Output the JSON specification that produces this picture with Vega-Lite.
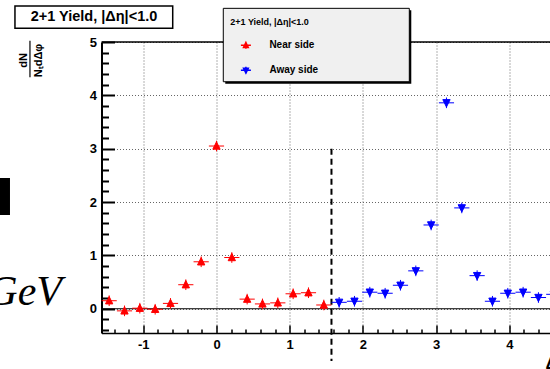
{
  "$schema": "https://vega.github.io/schema/vega-lite/v6.json",
  "width": 448.5,
  "height": 291,
  "autosize": {"type": "none"},
  "padding": {"left": 101.5, "top": 42, "right": 0, "bottom": 36},
  "background": "white",
  "config": {
    "view": {"stroke": null},
    "font": "Liberation Sans"
  },
  "layer": [
    {
      "data": {"values": [{}]},
      "mark": {"type": "rule", "color": "black", "strokeWidth": 1.2},
      "encoding": {"y": {"datum": 0}}
    },
    {
      "data": {"values": [{}]},
      "mark": {"type": "rule", "color": "black", "strokeWidth": 1.5},
      "encoding": {"y": {"datum": 5}}
    },
    {
      "data": {"values": [{}]},
      "mark": {"type": "rule", "color": "black", "strokeWidth": 2, "strokeDash": [6, 4]},
      "encoding": {"x": {"datum": 1.5708}, "y": {"datum": 3}, "y2": {"datum": -0.98}}
    },
    {
      "data": {"values": [{}]},
      "mark": {"type": "rect", "fill": "black"},
      "encoding": {"x": {"datum": 0.12}, "x2": {"datum": 2.661}, "y": {"datum": 5.594}, "y2": {"datum": 4.218}}
    },
    {
      "data": {"values": [{}]},
      "mark": {"type": "rect", "fill": "#f0f0f0", "stroke": "black", "strokeWidth": 1},
      "encoding": {"x": {"datum": 0.093}, "x2": {"datum": 2.634}, "y": {"datum": 5.631}, "y2": {"datum": 4.255}}
    },
    {
      "data": {"values": [
        {"dphi": -1.4661, "yield": 0.15, "side": "Near side"},
        {"dphi": -1.2566, "yield": -0.04, "side": "Near side"},
        {"dphi": -1.0472, "yield": 0.01, "side": "Near side"},
        {"dphi": -0.8378, "yield": -0.01, "side": "Near side"},
        {"dphi": -0.6283, "yield": 0.10, "side": "Near side"},
        {"dphi": -0.4189, "yield": 0.45, "side": "Near side"},
        {"dphi": -0.2094, "yield": 0.88, "side": "Near side"},
        {"dphi": 0.0, "yield": 3.05, "side": "Near side"},
        {"dphi": 0.2094, "yield": 0.96, "side": "Near side"},
        {"dphi": 0.4189, "yield": 0.18, "side": "Near side"},
        {"dphi": 0.6283, "yield": 0.09, "side": "Near side"},
        {"dphi": 0.8378, "yield": 0.11, "side": "Near side"},
        {"dphi": 1.0472, "yield": 0.28, "side": "Near side"},
        {"dphi": 1.2566, "yield": 0.30, "side": "Near side"},
        {"dphi": 1.4661, "yield": 0.07, "side": "Near side"},
        {"dphi": 1.6755, "yield": 0.12, "side": "Away side"},
        {"dphi": 1.885, "yield": 0.14, "side": "Away side"},
        {"dphi": 2.0944, "yield": 0.31, "side": "Away side"},
        {"dphi": 2.3038, "yield": 0.29, "side": "Away side"},
        {"dphi": 2.5133, "yield": 0.44, "side": "Away side"},
        {"dphi": 2.7227, "yield": 0.71, "side": "Away side"},
        {"dphi": 2.9322, "yield": 1.57, "side": "Away side"},
        {"dphi": 3.1416, "yield": 3.86, "side": "Away side"},
        {"dphi": 3.351, "yield": 1.89, "side": "Away side"},
        {"dphi": 3.5605, "yield": 0.62, "side": "Away side"},
        {"dphi": 3.7699, "yield": 0.14, "side": "Away side"},
        {"dphi": 3.9794, "yield": 0.29, "side": "Away side"},
        {"dphi": 4.1888, "yield": 0.31, "side": "Away side"},
        {"dphi": 4.3982, "yield": 0.21, "side": "Away side"},
        {"dphi": 4.6077, "yield": 0.27, "side": "Away side"}
      ]},
      "mark": {"type": "point", "filled": true, "size": 231, "strokeWidth": 1, "opacity": 1},
      "encoding": {
        "x": {
          "field": "dphi", "type": "quantitative",
          "scale": {"domain": [-1.5708, 4.556], "nice": false, "zero": false},
          "axis": {
            "title": "Δφ", "titleX": 443.5, "titleY": 35, "titleAlign": "left", "titleBaseline": "alphabetic",
            "titleFontSize": 17, "titleFontWeight": "bold", "titleColor": "black",
            "tickCount": 200,
            "values": [-1.4,-1.2,-1,-0.8,-0.6,-0.4,-0.2,0,0.2,0.4,0.6,0.8,1,1.2,1.4,1.6,1.8,2,2.2,2.4,2.6,2.8,3,3.2,3.4,3.6,3.8,4,4.2,4.4],
            "labelExpr": "abs(datum.value - round(datum.value)) < 0.001 ? '' + round(datum.value) : ''",
            "labelFontSize": 13, "labelFontWeight": "bold", "labelColor": "black",
            "labelPadding": 13, "labelOverlap": false, "labelFlush": false,
            "tickSize": {"condition": {"test": "abs(datum.value - round(datum.value)) < 0.001", "value": -8}, "value": -4},
            "tickColor": "black", "tickWidth": 1.5,
            "domainColor": "black", "domainWidth": 1.5,
            "grid": true, "gridDash": [1, 2], "gridColor": "#666666", "gridWidth": 1,
            "gridOpacity": {"condition": {"test": "abs(datum.value - round(datum.value)) < 0.001", "value": 1}, "value": 0}
          }
        },
        "y": {
          "field": "yield", "type": "quantitative",
          "scale": {"domain": [-0.455, 5], "nice": false, "zero": false},
          "axis": {
            "title": ["dN", "NₜdΔφ"], "titleX": -78, "titleY": 18, "titleAngle": 270,
            "titleAlign": "center", "titleBaseline": "middle", "titleLineHeight": 14.5,
            "titleFontSize": 11, "titleFontWeight": "bold", "titleColor": "black",
            "tickCount": 200,
            "values": [-0.4,-0.2,0,0.2,0.4,0.6,0.8,1,1.2,1.4,1.6,1.8,2,2.2,2.4,2.6,2.8,3,3.2,3.4,3.6,3.8,4,4.2,4.4,4.6,4.8,5],
            "labelExpr": "abs(datum.value - round(datum.value)) < 0.001 ? '' + round(datum.value) : ''",
            "labelFontSize": 13, "labelFontWeight": "bold", "labelColor": "black",
            "labelPadding": 18, "labelOverlap": false, "labelFlush": false,
            "tickSize": {"condition": {"test": "abs(datum.value - round(datum.value)) < 0.001", "value": -13}, "value": -7},
            "tickColor": "black", "tickWidth": 2,
            "domainColor": "black", "domainWidth": 2,
            "grid": true, "gridDash": [1, 2], "gridColor": "#666666", "gridWidth": 1,
            "gridOpacity": {"condition": {"test": "abs(datum.value - round(datum.value)) < 0.001", "value": 1}, "value": 0}
          }
        },
        "color": {
          "field": "side", "type": "nominal",
          "scale": {"domain": ["Near side", "Away side"], "range": ["#ff0000", "#0000ff"]},
          "legend": {
            "title": "2+1 Yield, |Δη|<1.0",
            "orient": "none", "legendX": 121.8, "legendY": -30.7,
            "padding": 7,
            "titleFontSize": 9, "titleFontWeight": "bold", "titleColor": "black", "titlePadding": 12,
            "labelFontSize": 10, "labelFontWeight": "bold", "labelColor": "black",
            "labelOffset": 17.5, "symbolOffset": 9.6, "rowPadding": 11
          }
        },
        "stroke": {
          "field": "side", "type": "nominal",
          "scale": {"domain": ["Near side", "Away side"], "range": ["#ff0000", "#0000ff"]},
          "legend": {
            "title": "2+1 Yield, |Δη|<1.0",
            "orient": "none", "legendX": 121.8, "legendY": -30.7,
            "padding": 7,
            "titleFontSize": 9, "titleFontWeight": "bold", "titleColor": "black", "titlePadding": 12,
            "labelFontSize": 10, "labelFontWeight": "bold", "labelColor": "black",
            "labelOffset": 17.5, "symbolOffset": 9.6, "rowPadding": 11
          }
        },
        "shape": {
          "field": "side", "type": "nominal",
          "scale": {"domain": ["Near side", "Away side"], "range": ["M-1,0H1M0,-0.7V0.7M0,-0.55L0.48,0.42L-0.48,0.42Z", "M-1,0H1M0,-0.7V0.7M0,0.55L0.48,-0.42L-0.48,-0.42Z"]},
          "legend": {
            "title": "2+1 Yield, |Δη|<1.0",
            "orient": "none", "legendX": 121.8, "legendY": -30.7,
            "padding": 7,
            "titleFontSize": 9, "titleFontWeight": "bold", "titleColor": "black", "titlePadding": 12,
            "labelFontSize": 10, "labelFontWeight": "bold", "labelColor": "black",
            "labelOffset": 17.5, "symbolOffset": 9.6, "rowPadding": 11
          }
        }
      }
    },
    {
      "data": {"values": [{}]},
      "mark": {"type": "rect", "fill": "white", "stroke": "black", "strokeWidth": 1.5},
      "encoding": {"x": {"datum": -2.753}, "x2": {"datum": -0.598}, "y": {"datum": 5.674}, "y2": {"datum": 5.256}}
    },
    {
      "data": {"values": [{}]},
      "mark": {"type": "text", "text": "2+1 Yield, |Δη|<1.0", "fontSize": 14.5, "fontWeight": "bold", "font": "Liberation Sans", "color": "black", "align": "center", "baseline": "middle"},
      "encoding": {"x": {"datum": -1.673}, "y": {"datum": 5.473}}
    },
    {
      "data": {"values": [{}]},
      "mark": {"type": "rule", "color": "black", "strokeWidth": 1.2},
      "encoding": {"x": {"datum": -2.548}, "y": {"datum": 5.023}, "y2": {"datum": 4.337}}
    },
    {
      "data": {"values": [{}]},
      "mark": {"type": "rect", "fill": "black"},
      "encoding": {"x": {"datum": -3.2}, "x2": {"datum": -2.821}, "y": {"datum": 2.45}, "y2": {"datum": 1.756}}
    },
    {
      "data": {"values": [{}]},
      "mark": {"type": "text", "text": "GeV", "fontSize": 42, "font": "Liberation Serif", "fontStyle": "italic", "color": "black", "align": "right", "baseline": "alphabetic"},
      "encoding": {"x": {"datum": -2.111}, "y": {"datum": 0.069}}
    }
  ]
}
